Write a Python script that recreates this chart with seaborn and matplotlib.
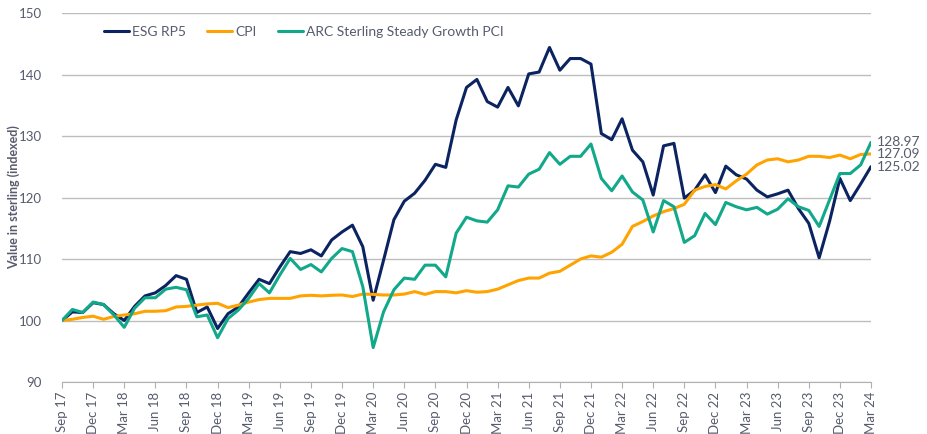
import numpy as np
import pandas as pd
import matplotlib
matplotlib.use("Agg")
import matplotlib.pyplot as plt
from matplotlib import font_manager
import seaborn as sns

tick_labels = ["Sep 17", "Dec 17", "Mar 18", "Jun 18", "Sep 18", "Dec 18", "Mar 19", "Jun 19",
               "Sep 19", "Dec 19", "Mar 20", "Jun 20", "Sep 20", "Dec 20", "Mar 21", "Jun 21",
               "Sep 21", "Dec 21", "Mar 22", "Jun 22", "Sep 22", "Dec 22", "Mar 23", "Jun 23",
               "Sep 23", "Dec 23", "Mar 24"]

esg_rp5 = [100.0, 101.4, 101.3, 102.9, 102.6, 101.1, 100.0, 102.3, 104.0, 104.5,
           105.7, 107.3, 106.7, 101.3, 102.2, 98.7, 101.1, 102.2, 104.5, 106.7,
           106.0, 108.7, 111.2, 110.9, 111.5, 110.5, 113.1, 114.4, 115.5, 112.0,
           103.3, 109.8, 116.4, 119.4, 120.7, 122.8, 125.4, 124.9, 132.6, 137.9,
           139.2, 135.6, 134.7, 137.9, 134.9, 140.1, 140.4, 144.4, 140.7, 142.6,
           142.6, 141.7, 130.4, 129.4, 132.8, 127.7, 125.8, 120.4, 128.4, 128.8,
           119.9, 121.2, 123.7, 120.8, 125.1, 123.7, 123.0, 121.2, 120.1, 120.6,
           121.2, 118.2, 115.8, 110.2, 116.1, 123.1, 119.5, 122.2, 125.02]

cpi = [100.0, 100.2, 100.5, 100.7, 100.2, 100.65, 100.9, 101.1, 101.5, 101.5,
       101.6, 102.2, 102.3, 102.5, 102.7, 102.8, 102.1, 102.5, 103.0, 103.4,
       103.6, 103.6, 103.6, 104.0, 104.1, 104.0, 104.1, 104.15, 103.9, 104.3,
       104.25, 104.15, 104.15, 104.3, 104.7, 104.25, 104.7, 104.7, 104.5, 104.85,
       104.6, 104.7, 105.1, 105.8, 106.5, 106.9, 106.9, 107.7, 108.0, 109.0,
       110.0, 110.5, 110.3, 111.1, 112.4, 115.3, 116.1, 117.0, 117.7, 118.2,
       118.9, 121.2, 121.8, 122.1, 121.4, 122.7, 123.8, 125.3, 126.1, 126.3,
       125.8, 126.1, 126.7, 126.7, 126.5, 126.9, 126.3, 127.0, 127.09]

arc_pci = [100.0, 101.8, 101.3, 103.0, 102.6, 100.9, 98.9, 102.0, 103.7, 103.7,
           105.1, 105.4, 105.0, 100.6, 100.9, 97.2, 100.3, 101.7, 103.6, 106.0,
           104.5, 107.4, 110.1, 108.3, 109.1, 107.9, 110.1, 111.7, 111.2, 105.5,
           95.6, 101.4, 105.0, 106.9, 106.7, 109.0, 109.0, 107.1, 114.2, 116.8,
           116.2, 116.0, 118.0, 121.9, 121.7, 123.8, 124.6, 127.3, 125.4, 126.7,
           126.7, 128.7, 123.1, 121.1, 123.5, 120.9, 119.6, 114.4, 119.5, 118.5,
           112.7, 113.8, 117.4, 115.6, 119.2, 118.5, 118.0, 118.4, 117.3, 118.1,
           119.8, 118.5, 117.9, 115.3, 119.6, 123.9, 123.9, 125.3, 128.97]

series_names = ["ESG RP5", "CPI", "ARC Sterling Steady Growth PCI"]
colors = ["#0b2461", "#ffa300", "#12a88a"]

months = np.arange(len(esg_rp5))
df = pd.DataFrame({
    "month": np.concatenate([months] * 3),
    "value": np.concatenate([esg_rp5, cpi, arc_pci]),
    "series": np.repeat(series_names, len(months)),
})

sns.set_theme(style="white")
plt.rcParams["font.family"] = ["Lato", "DejaVu Sans"]

# pick a family that really has a bold face for the axis title
bold_family = "DejaVu Sans"
for fam in ["Lato", "Open Sans", "Roboto", "Noto Sans"]:
    has_bold = any(f.name == fam and (f.weight in ("bold", "heavy", "black") or
                   (isinstance(f.weight, int) and f.weight >= 600))
                   for f in font_manager.fontManager.ttflist)
    if has_bold:
        bold_family = fam
        break

text_grey = "#575c6e"
fig = plt.figure(figsize=(9.27, 4.34), dpi=100)
ax = fig.add_axes([0.0669, 0.1198, 0.8727, 0.8502])

sns.lineplot(data=df, x="month", y="value", hue="series", hue_order=series_names,
             palette=colors, linewidth=2.2, ax=ax, legend=True)

ax.set_xlim(0, len(months) - 1)
ax.set_ylim(90, 150)
ax.set_yticks(np.arange(90, 151, 10))
ax.yaxis.grid(True, color="#bdbdbd", linewidth=1.0)
ax.set_axisbelow(True)
ax.set_xticks(np.arange(0, len(months), 3))
ax.set_xticklabels(tick_labels, rotation=90, fontsize=9.5, color=text_grey)
ax.tick_params(axis="x", bottom=True, length=4, width=0.8, color="#b0b0b0", pad=3)
ax.tick_params(axis="y", left=False, labelsize=9.5, labelcolor=text_grey, pad=8.5)
for s in ["top", "right", "left"]:
    ax.spines[s].set_visible(False)
ax.spines["bottom"].set_color("#b0b0b0")
ax.spines["bottom"].set_linewidth(0.8)

ax.set_xlabel("")
ax.set_ylabel("Value in sterling (indexed)", fontsize=9, fontweight="bold",
              family=[bold_family, "DejaVu Sans"], color=text_grey)
ax.yaxis.set_label_coords(-0.052, 0.5)

leg = ax.legend(loc="upper left", bbox_to_anchor=(0.036, 1.0), ncol=3, frameon=False,
                fontsize=10, handlelength=1.8, handletextpad=0.25, columnspacing=1.5)
for t in leg.get_texts():
    t.set_color(text_grey)
for h in leg.get_lines():
    h.set_linewidth(2.2)

last = len(months) - 1
for vals in [arc_pci, cpi, esg_rp5]:
    ax.annotate(f"{vals[-1]:.2f}", xy=(last, vals[-1]), xytext=(4, 0),
                textcoords="offset points", va="center", ha="left",
                fontsize=10, color=text_grey, annotation_clip=False)

fig.savefig("out.png", dpi=100)
